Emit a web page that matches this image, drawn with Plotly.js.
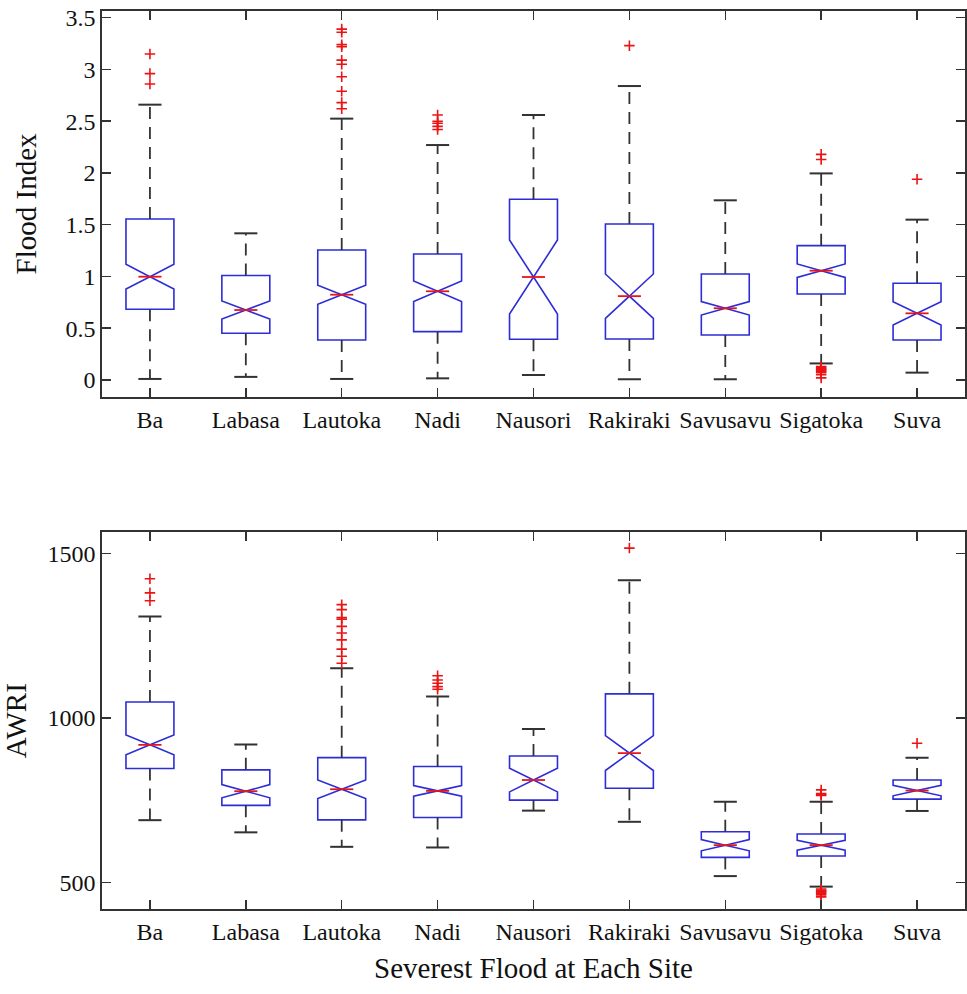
<!DOCTYPE html>
<html>
<head>
<meta charset="utf-8">
<script src="https://cdn.plot.ly/plotly-3.0.1.min.js"></script>
<style>html,body{margin:0;padding:0;background:#fff;}#chart{width:967px;height:994px;}</style>
</head>
<body>
<div id="chart"></div>
<script>
// ---------- data ----------
const sites = ["Ba","Labasa","Lautoka","Nadi","Nausori","Rakiraki","Savusavu","Sigatoka","Suva"];

// Flood Index (top panel)
const floodLo    = [0.01, 0.03, 0.01, 0.016, 0.048, 0.007, 0.007, 0.16, 0.071];
const floodQ1    = [0.683, 0.451, 0.386, 0.467, 0.393, 0.396, 0.435, 0.831, 0.386];
const floodMed   = [0.998, 0.676, 0.824, 0.857, 0.995, 0.81, 0.693, 1.056, 0.644];
const floodQ3    = [1.555, 1.01, 1.256, 1.217, 1.746, 1.507, 1.024, 1.298, 0.934];
const floodHi    = [2.66, 1.417, 2.525, 2.27, 2.56, 2.84, 1.736, 1.996, 1.549];
const floodNotch = [0.12, 0.087, 0.092, 0.10, 0.357, 0.214, 0.065, 0.065, 0.113];
const floodOutSite = ["Ba","Ba","Ba",
  "Lautoka","Lautoka","Lautoka","Lautoka","Lautoka","Lautoka","Lautoka","Lautoka","Lautoka","Lautoka",
  "Nadi","Nadi","Nadi","Nadi","Nadi",
  "Rakiraki",
  "Sigatoka","Sigatoka","Sigatoka","Sigatoka","Sigatoka","Sigatoka","Sigatoka","Sigatoka","Sigatoka","Sigatoka","Sigatoka",
  "Suva"];
const floodOutVal = [3.15, 2.96, 2.86,
  3.39, 3.36, 3.24, 3.22, 3.09, 3.05, 2.93, 2.79, 2.68, 2.62,
  2.56, 2.50, 2.48, 2.45, 2.42,
  3.23,
  2.18, 2.13, 0.13, 0.12, 0.11, 0.10, 0.09, 0.08, 0.07, 0.05, 0.02,
  1.94];

// AWRI (bottom panel)
const awriLo    = [689, 652, 608, 606, 718, 684, 519, 487, 717];
const awriQ1    = [846, 734, 690, 697, 750, 786, 576, 580, 753];
const awriMed   = [918, 777, 783, 778, 811, 893, 613, 613, 779];
const awriQ3    = [1048, 842, 879, 852, 884, 1073, 654, 647, 811];
const awriHi    = [1308, 919, 1151, 1065, 966, 1418, 745, 745, 879];
const awriNotch = [30, 20, 28, 16, 36, 53, 17, 15, 16];
const awriOutSite = ["Ba","Ba","Ba",
  "Lautoka","Lautoka","Lautoka","Lautoka","Lautoka","Lautoka","Lautoka","Lautoka","Lautoka","Lautoka",
  "Nadi","Nadi","Nadi","Nadi","Nadi",
  "Rakiraki",
  "Sigatoka","Sigatoka","Sigatoka","Sigatoka","Sigatoka","Sigatoka","Sigatoka","Sigatoka","Sigatoka","Sigatoka","Sigatoka",
  "Suva"];
const awriOutVal = [1423, 1380, 1356,
  1344, 1329, 1305, 1300, 1278, 1258, 1237, 1209, 1187, 1166,
  1128, 1115, 1105, 1095, 1087,
  1516,
  781, 770, 767, 764, 480, 476, 473, 470, 467, 462, 456,
  923];

// ---------- styles ----------
const BOXW = 0.5;
const BLUE = "rgb(45,45,215)";
const RED = "rgb(235,20,20)";
const DARK = "rgb(50,50,50)";

function panel(xa, ya, lo, q1, med, q3, hi, notch, outX, outY) {
  const base = {xaxis: xa, yaxis: ya, showlegend: false, hoverinfo: "skip"};
  const traces = [];
  // dashed whiskers: from box edge to fence, built from the stat arrays
  const wx = [], wy = [];
  sites.forEach((s, i) => {
    wx.push(s, s, null, s, s, null);
    wy.push(q3[i], hi[i], null, q1[i], lo[i], null);
  });
  traces.push(Object.assign({}, base, {type: "scatter", mode: "lines", x: wx, y: wy,
    connectgaps: false, line: {color: DARK, width: 1.8, dash: "12px,8px"}}));
  // whisker caps
  traces.push(Object.assign({}, base, {type: "scatter", mode: "markers",
    x: sites.concat(sites), y: hi.concat(lo),
    marker: {symbol: "line-ew", size: 16.5, color: DARK, line: {color: DARK, width: 2}}}));
  // notched box
  traces.push(Object.assign({}, base, {type: "box", orientation: "v", x: sites, boxpoints: false,
    q1: q1, median: med, q3: q3, lowerfence: q1, upperfence: q3,
    notchspan: notch, notched: true, notchwidth: 0.5,
    width: BOXW, whiskerwidth: 0,
    line: {color: BLUE, width: 1.6}, fillcolor: "white"}));
  // red median
  traces.push(Object.assign({}, base, {type: "scatter", mode: "markers", x: sites, y: med,
    marker: {symbol: "line-ew", size: 16.5, color: RED, line: {color: RED, width: 1.8}}}));
  // outliers
  traces.push(Object.assign({}, base, {type: "scatter", mode: "markers", x: outX, y: outY,
    marker: {symbol: "cross-thin", size: 7.5, color: RED, line: {color: RED, width: 1.6}}}));
  return traces;
}

const data = [].concat(
  panel("x", "y", floodLo, floodQ1, floodMed, floodQ3, floodHi, floodNotch, floodOutSite, floodOutVal),
  panel("x2", "y2", awriLo, awriQ1, awriMed, awriQ3, awriHi, awriNotch, awriOutSite, awriOutVal)
);

const FONT = "Liberation Serif, Times New Roman, serif";
const axisBase = {
  showline: true, mirror: "ticks", linecolor: DARK, linewidth: 1.8,
  ticks: "inside", ticklen: 9, tickwidth: 1.5, tickcolor: DARK,
  showgrid: false, zeroline: false,
  tickfont: {family: FONT, size: 24, color: "#111"}
};

const layout = {
  width: 967, height: 994,
  margin: {l: 102, r: 2, t: 11, b: 85},
  paper_bgcolor: "white", plot_bgcolor: "white",
  boxmode: "overlay",
  font: {family: FONT, color: "#111"},
  xaxis: Object.assign({}, axisBase, {
    domain: [0, 1], anchor: "y", type: "category", range: [-0.5, 8.5],
    categoryorder: "array", categoryarray: sites
  }),
  yaxis: Object.assign({}, axisBase, {
    domain: [0.5702, 1], anchor: "x", range: [-0.164, 3.565], dtick: 0.5, tick0: 0,
    title: {text: "Flood Index", font: {family: FONT, size: 29, color: "#111"}, standoff: 20}
  }),
  xaxis2: Object.assign({}, axisBase, {
    domain: [0, 1], anchor: "y2", type: "category", range: [-0.5, 8.5],
    categoryorder: "array", categoryarray: sites,
    title: {text: "Severest Flood at Each Site", font: {family: FONT, size: 29, color: "#111"}, standoff: 14}
  }),
  yaxis2: Object.assign({}, axisBase, {
    domain: [0, 0.4195], anchor: "x2", range: [419, 1564], tickvals: [500, 1000, 1500],
    title: {text: "AWRI", font: {family: FONT, size: 29, color: "#111"}, standoff: 20}
  })
};

Plotly.newPlot("chart", data, layout, {displayModeBar: false, staticPlot: true});
</script>
</body>
</html>
